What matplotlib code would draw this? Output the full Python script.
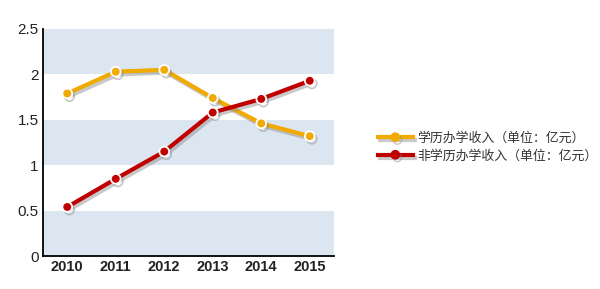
import matplotlib
matplotlib.use("Agg")
import matplotlib.pyplot as plt
import matplotlib.patheffects as pe
from matplotlib.lines import Line2D

plt.rcParams['font.family'] = ['Noto Sans CJK SC', 'DejaVu Sans']

years = ["2010", "2011", "2012", "2013", "2014", "2015"]
degree_income = [1.79, 2.03, 2.05, 1.74, 1.46, 1.32]
non_degree_income = [0.54, 0.85, 1.15, 1.58, 1.73, 1.93]
labels = ["学历办学收入（单位：亿元）", "非学历办学收入（单位：亿元）"]
colors = ["#f0aa00", "#c00000"]

fig = plt.figure(figsize=(6, 2.89), dpi=100)
ax = fig.add_axes([43 / 600, 33 / 289, 291 / 600, 227 / 289])

for lo in [0, 1, 2]:
    ax.axhspan(lo, lo + 0.5, color="#dce6f1", zorder=0, lw=0)

shadow = [pe.SimpleLineShadow(offset=(1.5, -2), shadow_color="#888888", alpha=0.45), pe.Normal()]
x = range(len(years))
for vals, c in zip([degree_income, non_degree_income], colors):
    ax.plot(x, vals, color=c, lw=3, marker="o", ms=7, mfc=c, mec="white", mew=1.3,
            path_effects=shadow, zorder=3)

ax.set_xlim(-0.5, 5.5)
ax.set_ylim(0, 2.5)
ax.set_yticks([0, 0.5, 1, 1.5, 2, 2.5])
ax.set_yticklabels(["0", "0.5", "1", "1.5", "2", "2.5"], fontsize=11, color="#222222",
                   family="Liberation Sans")
ax.set_xticks(list(x))
ax.set_xticklabels(years, fontsize=10.5, fontweight="bold", color="#222222",
                   family="Liberation Sans")
ax.tick_params(axis="both", length=0, pad=3)
ax.spines["top"].set_visible(False)
ax.spines["right"].set_visible(False)
ax.spines["left"].set_linewidth(1.3)
ax.spines["bottom"].set_linewidth(1.3)

handles = [Line2D([], [], color=c, lw=3, marker="o", ms=6, mfc=c, mec=c,
                  path_effects=shadow) for c in colors]
fig.legend(handles, labels, loc="center left", bbox_to_anchor=(374 / 600, 1 - 147 / 289),
           frameon=False, fontsize=9.3, handlelength=2.7, handletextpad=0.35, labelspacing=0.35,
           borderaxespad=0, borderpad=0.3, labelcolor="#333333")

fig.savefig("out.png", dpi=100)
